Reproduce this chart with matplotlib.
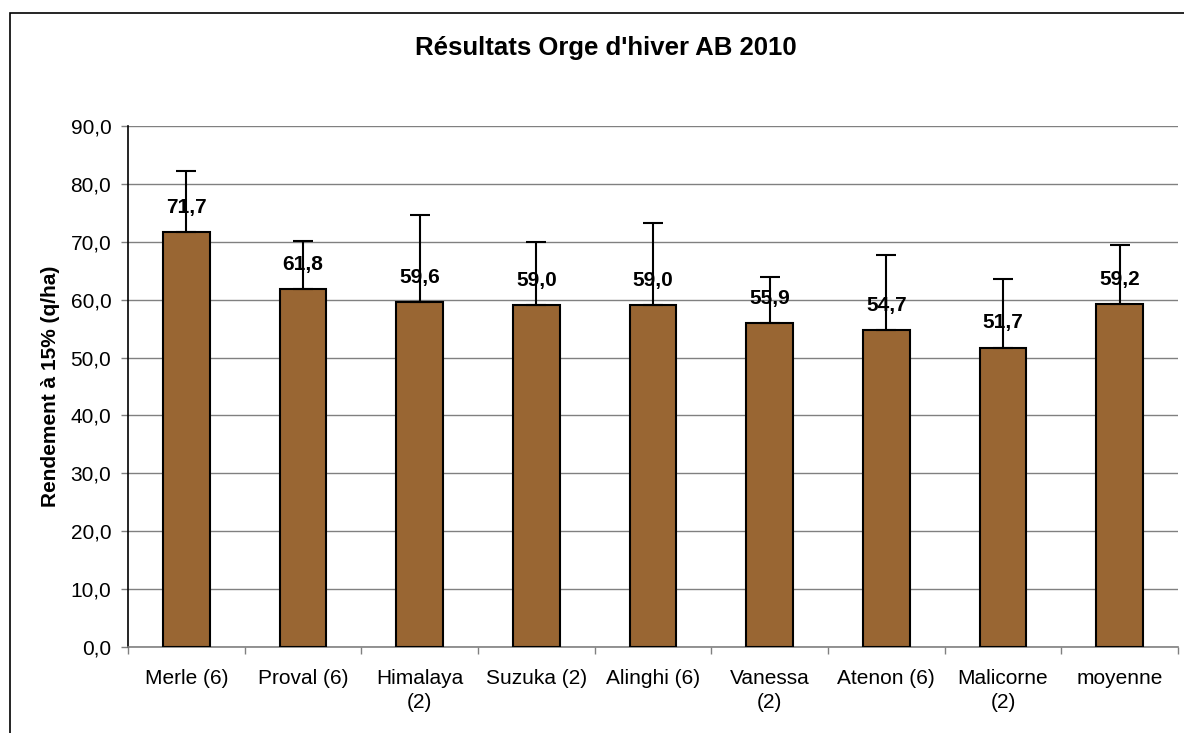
import matplotlib

matplotlib.use("Agg")

import matplotlib.pyplot as plt
from matplotlib.patches import Rectangle
from matplotlib.ticker import FixedLocator, FuncFormatter

plt.rcParams["font.family"] = ["Liberation Sans", "DejaVu Sans"]

varieties = ["Merle (6)", "Proval (6)", "Himalaya\n(2)", "Suzuka (2)", "Alinghi (6)",
             "Vanessa\n(2)", "Atenon (6)", "Malicorne\n(2)", "moyenne"]
rendement = [71.7, 61.8, 59.6, 59.0, 59.0, 55.9, 54.7, 51.7, 59.2]
err_top = [82.2, 70.2, 74.6, 70.0, 73.2, 63.9, 67.7, 63.6, 69.4]
err_up = [t - v for t, v in zip(err_top, rendement)]

fig = plt.figure(figsize=(11.84, 7.33), dpi=100)
ax = fig.add_axes([128 / 1184, 1 - 647 / 733, (1178 - 128) / 1184, (647 - 126) / 733])

x = list(range(len(varieties)))
ax.bar(x, rendement, width=0.4, color="#996633", edgecolor="black", linewidth=1.5, zorder=3)
ax.errorbar(x, rendement, yerr=[[0] * len(x), err_up], fmt="none", ecolor="black",
            elinewidth=1.5, capsize=7, capthick=1.5, zorder=4)

for xi, v in zip(x, rendement):
    ax.annotate(f"{v:.1f}".replace(".", ","), (xi, v), xytext=(0, 11), textcoords="offset points",
                ha="center", va="bottom", fontsize=15, fontweight="bold", zorder=5)

ax.set_xlim(-0.5, len(x) - 0.5)
ax.set_ylim(0, 90)
ax.set_yticks(range(0, 91, 10))
ax.yaxis.set_major_formatter(FuncFormatter(lambda v, p: f"{v:.1f}".replace(".", ",")))
ax.yaxis.grid(True, color="#808080", linewidth=1.0, zorder=0)
ax.set_xticks(x)
ax.set_xticklabels(varieties, fontsize=15, linespacing=1.35)
ax.tick_params(axis="x", length=0, pad=16)
ax.xaxis.set_minor_locator(FixedLocator([i - 0.5 for i in range(len(x) + 1)]))
ax.tick_params(axis="x", which="minor", length=5, width=1, color="#808080")
ax.tick_params(axis="y", length=5, width=1, color="#808080", labelsize=15, pad=7)

for side in ["top", "right"]:
    ax.spines[side].set_visible(False)
for side in ["left", "bottom"]:
    ax.spines[side].set_color("#808080")
    ax.spines[side].set_linewidth(1.2)
ax.spines["left"].set_color("black")

ax.set_ylabel("Rendement à 15% (q/ha)", fontsize=15, fontweight="bold")
ax.yaxis.set_label_coords((60 - 128) / (1178 - 128), 0.5)

fig.text(606 / 1184, 1 - 48 / 733, "Résultats Orge d'hiver AB 2010", ha="center", va="center",
         fontsize=18.5, fontweight="bold")

fig.patches.append(Rectangle((10 / 1184, -0.01), 1.02, 1 - 13 / 733 + 0.01, transform=fig.transFigure,
                             fill=False, edgecolor="black", linewidth=1.2))

fig.savefig("out.png", dpi=100)
